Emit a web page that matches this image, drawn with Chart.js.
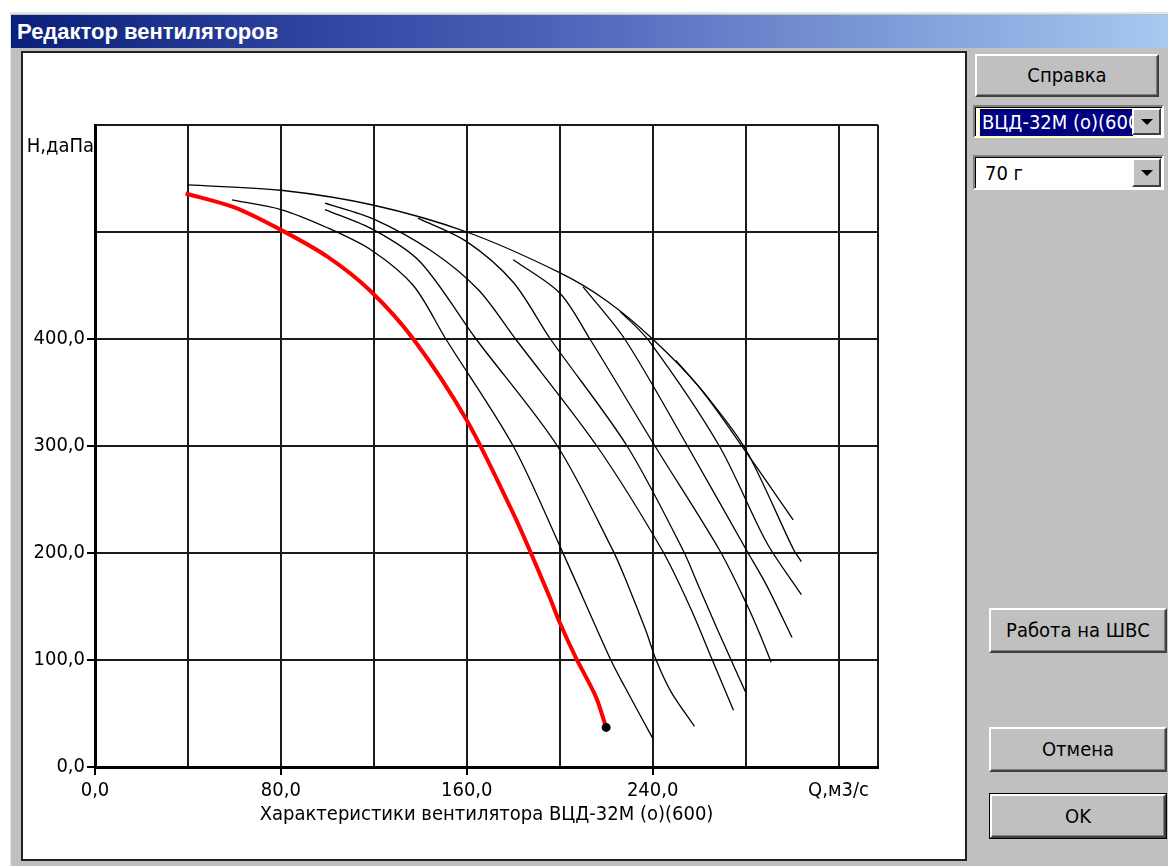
<!DOCTYPE html>
<html>
<head>
<meta charset="utf-8">
<script src="https://cdn.jsdelivr.net/npm/chart.js@4.4.1/dist/chart.umd.min.js"></script>
<style>
body{margin:0;width:1168px;height:866px;overflow:hidden;background:#fff;position:relative;
  font-family:'DejaVu Sans Condensed','Liberation Sans Narrow',sans-serif;}
#win{position:absolute;left:10px;top:12px;width:1170px;height:870px;background:#c0c0c0;
  border-top:2px solid #e4e4e4;border-left:1px solid #e4e4e4;}
#cap{position:absolute;left:11px;top:15px;width:1157px;height:33px;box-sizing:border-box;padding-left:6px;
  background:linear-gradient(to right,#0a1f7a 0%,#4a5fb8 45%,#a6caf0 100%);color:#fff;
  font:bold 22px 'Liberation Sans',Arial,sans-serif;line-height:33px;}
#panel{position:absolute;left:21px;top:51px;width:942px;height:806px;border:2px solid #202020;background:#fff;}
#panel canvas{position:absolute;left:0;top:0;}
.btn{position:absolute;box-sizing:border-box;background:#c0c0c0;border:2px solid;
  border-color:#fff #404040 #404040 #fff;box-shadow:inset -1px -1px #808080;
  font-size:20px;text-align:center;color:#000;}
.btn.def{outline:1px solid #000;}
.combo{position:absolute;left:973px;width:191px;box-sizing:border-box;background:#fff;border:2px solid;
  border-color:#808080 #fff #fff #808080;box-shadow:inset 1px 1px #000;font-size:20px;}
.combo .sel{position:absolute;left:5px;top:2px;width:153px;height:27px;background:#000080;color:#fff;
  outline:1px dotted #ff0;overflow:hidden;white-space:nowrap;line-height:27px;padding-left:2px;box-sizing:border-box;}
.combo .txt{position:absolute;left:10px;top:2px;line-height:28px;}
.combo .drop{position:absolute;right:1px;top:1px;width:29px;box-sizing:border-box;background:#c0c0c0;border:2px solid;
  border-color:#fff #404040 #404040 #fff;}
.combo .drop i{position:absolute;left:7px;top:50%;margin-top:-3px;width:0;height:0;
  border-left:6px solid transparent;border-right:6px solid transparent;border-top:6px solid #000;}
</style>
</head>
<body>
<div id="win"></div>
<div id="cap">Редактор вентиляторов</div>
<div id="panel"><canvas id="fanChart" width="942" height="806"></canvas></div>

<div class="btn" style="left:975px;top:54px;width:184px;height:43px;line-height:39px;">Справка</div>
<div class="combo" style="top:105px;height:33px;">
  <div class="sel">ВЦД-32М (о)(600)</div>
  <div class="drop" style="height:27px;"><i></i></div>
</div>
<div class="combo" style="top:155px;height:35px;">
  <div class="txt">70 г</div>
  <div class="drop" style="height:29px;"><i></i></div>
</div>
<div class="btn" style="left:989px;top:608px;width:178px;height:45px;line-height:41px;">Работа на ШВС</div>
<div class="btn" style="left:989px;top:727px;width:178px;height:45px;line-height:41px;">Отмена</div>
<div class="btn def" style="left:990px;top:794px;width:176px;height:44px;line-height:40px;">OK</div>

<script>
const FONT = "'DejaVu Sans Condensed','Liberation Sans Narrow',sans-serif";

// рабочая характеристика (красная)
const redCurve = [[39,536],[60,523],[80,502],[100,477],[118,446],[137,400],[160,324],[180,237],[187,203],
  [196,157],[200,135],[207,102],[215.5,66],[220,37]];

// характеристики при разных углах лопаток
const envelope = [[40,544],[80,539],[120,525],[160,500],[200,462],[220,436],[240,400],[260,355],[280,295],[300.5,231]];
const curve1 = [[59,530],[80,521],[100,504],[119,483],[137,450],[151,400],[180,300],[201,202],[222,100],[228,75],[240,27]];
const curve2 = [[99,521],[120,502],[140,472],[164,400],[199,300],[223,202],[229,172],[237,128],[241.5,100],
  [248,70],[258,38]];
const curve3 = [[99,527],[120,512],[145,482],[165,446],[181,400],[216,300],[244,203],[256,150],[265.7,100],[274.8,53]];
const curve4 = [[139,513],[160,491],[180,453],[196,400],[229,300],[253,203],[260,168],[267.6,130],[274.4,97],[280,70]];
const curve5 = [[180,474],[200,443],[213,400],[241,300],[268.7,203],[280.3,153],[286,125],[291,98]];
const curve6 = [[210,449],[228,400],[255,300],[280.3,203],[289,170],[300,121]];
const curve7 = [[226,426],[238.5,398],[268.7,300],[289,210],[304,161]];
const curve8 = [[250,380],[262,350],[280,297],[300.7,203],[304,192]];

const xTicks = [0,40,80,120,160,200,240,280,320,337];
const xLabelled = [0,80,160,240];
const xUnit = 'Q,м3/с';
const xUnitAt = 320;
const yLabelled = [0,100,200,300,400];
const yUnit = 'Н,даПа';
const yUnitAt = 580;
const xTitle = 'Характеристики вентилятора ВЦД-32М (о)(600)';

const fmt = v => v.toFixed(1).replace('.', ',');
const pts = arr => arr.map(p => ({x: p[0], y: p[1]}));

const blackCurves = [envelope, curve1, curve2, curve3, curve4, curve5, curve6, curve7, curve8];

const datasets = [{
  data: pts(redCurve),
  borderColor: '#ff0000',
  borderWidth: 4,
  pointRadius: c => c.dataIndex === redCurve.length - 1 ? 2.5 : 0,
  pointBackgroundColor: '#000',
  pointBorderColor: '#000'
}].concat(blackCurves.map(c => ({
  data: pts(c),
  borderColor: '#000',
  borderWidth: 1.3,
  pointRadius: 0
})));

const unitLabel = {
  id: 'unitLabel',
  afterDraw(chart) {
    const {ctx, chartArea, scales} = chart;
    ctx.save();
    ctx.font = '20px ' + FONT;
    ctx.fillStyle = '#000';
    ctx.textAlign = 'right';
    ctx.textBaseline = 'middle';
    ctx.fillText(yUnit, chartArea.left - 1, scales.y.getPixelForValue(yUnitAt));
    ctx.restore();
  }
};

new Chart(document.getElementById('fanChart').getContext('2d'), {
  type: 'scatter',
  data: {datasets: datasets},
  options: {
    responsive: false,
    animation: false,
    devicePixelRatio: 1,
    showLine: true,
    elements: {line: {tension: 0.3, fill: false}},
    layout: {padding: {left: 0, top: 72, right: 87, bottom: 0}},
    plugins: {legend: {display: false}, tooltip: {enabled: false}},
    scales: {
      x: {
        type: 'linear', min: 0, max: 337,
        afterBuildTicks: s => { s.ticks = xTicks.map(v => ({value: v})); },
        afterFit: s => { s.height = 92; },
        grid: {
          color: '#1a1a1a', lineWidth: 2, tickLength: 8, tickWidth: 2,
          tickColor: c => xLabelled.includes(c.tick.value) ? '#000' : 'rgba(0,0,0,0)'
        },
        border: {color: '#000', width: 3},
        ticks: {
          autoSkip: false, maxRotation: 0, padding: 4, color: '#000',
          font: {family: FONT, size: 20},
          callback: v => xLabelled.includes(v) ? fmt(v) : (v === xUnitAt ? xUnit : '')
        },
        title: {display: true, text: xTitle, color: '#000', font: {family: FONT, size: 20}, padding: {top: 0, bottom: 32}}
      },
      y: {
        type: 'linear', min: 0, max: 600,
        afterFit: s => { s.width = 72; },
        grid: {
          color: '#1a1a1a', lineWidth: 2, tickLength: 8, tickWidth: 2,
          tickColor: c => yLabelled.includes(c.tick.value) ? '#000' : 'rgba(0,0,0,0)'
        },
        border: {color: '#000', width: 3},
        ticks: {
          stepSize: 100, autoSkip: false, padding: 2, color: '#000',
          font: {family: FONT, size: 20},
          callback: v => yLabelled.includes(v) ? fmt(v) : ''
        }
      }
    }
  },
  plugins: [unitLabel]
});
</script>
</body>
</html>
